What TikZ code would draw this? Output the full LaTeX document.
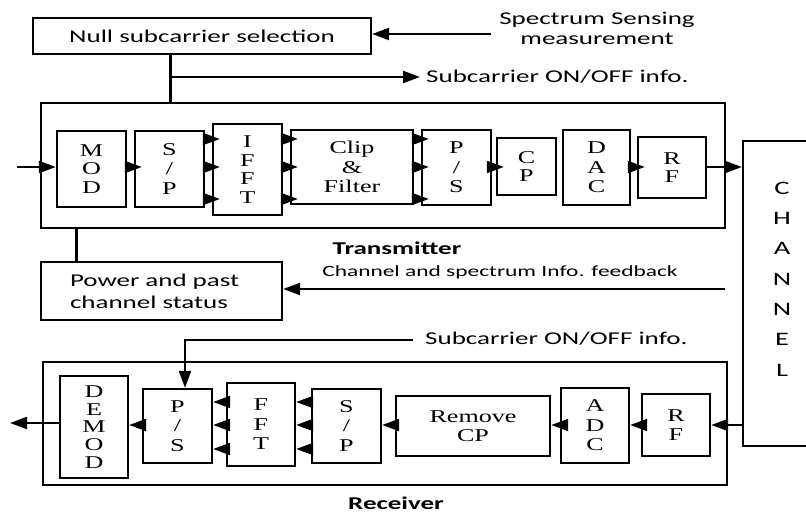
\documentclass[tikz,border=0pt]{standalone}
\usepackage{fontspec}
\newfontfamily\labfont[FakeStretch=1.5]{Carlito}
\newfontfamily\blkfont[FakeStretch=1.45]{Liberation Serif}
\usetikzlibrary{arrows.meta,calc}
\begin{document}
\begin{tikzpicture}[x=1pt,y=-1pt,
  box/.style={draw,line width=2.2pt,inner sep=0pt},
  blk/.style={draw,line width=2.4pt,inner sep=0pt,align=center,font=\blkfont\fontsize{18}{19.5}\selectfont},
  lab/.style={inner sep=0pt,font=\labfont\fontsize{18}{21}\selectfont},
  boldlab/.style={inner sep=0pt,font=\labfont\bfseries\fontsize{18}{21}\selectfont},
  ln/.style={line width=2pt},
  stem/.style={line width=3pt},
  arr/.style={line width=2.2pt,-{Triangle[length=17pt,width=12pt]}},
  tarr/.style={arr,shorten >=-8pt},
]
\useasboundingbox (0,0) rectangle (806,516);
\clip (0,0) rectangle (806,516);

% ---------- top ----------
\node[box,lab,minimum width=338pt,minimum height=36pt] (null) at (202,36) {Null subcarrier selection};
\node[lab,align=center,font=\labfont\fontsize{18}{20}\selectfont] (sslab) at (597,28) {Spectrum Sensing\\measurement};
\coordinate (ssend) at (491,34);
\draw[arr] (ssend) -- (ssend -| null.east);

% ---------- transmitter ----------
\node[box,minimum width=684pt,minimum height=125pt] (tx) at (383,165.5) {};
\coordinate (j1) at (170,77);
\draw[stem] (null.south -| j1) -- (tx.north -| j1);
\coordinate (s1end) at (420,77);
\draw[arr] (j1) -- (s1end);
\node[lab,anchor=west] (s1lab) at (426,77) {Subcarrier ON/OFF info.};

\node[blk,minimum width=69pt,minimum height=76pt,font=\blkfont\fontsize{18}{18.5}\selectfont] (mod) at (91.5,169) {M\\O\\D};
\node[blk,minimum width=69pt,minimum height=76pt] (sp1) at (169.5,169) {S\\/\\P};
\node[blk,minimum width=69pt,minimum height=91pt,font=\blkfont\fontsize{18}{18.7}\selectfont] (ifft) at (247.5,169.5) {I\\F\\F\\T};
\node[blk,minimum width=122pt,minimum height=74pt] (clip) at (352,167) {Clip\\\&\\Filter};
\node[blk,minimum width=69pt,minimum height=75pt] (ps1) at (456.5,167.5) {P\\/\\S};
\node[blk,minimum width=59pt,minimum height=57pt,font=\blkfont\fontsize{18}{17.5}\selectfont] (cp) at (526.5,166.5) {C\\P};
\node[blk,minimum width=67pt,minimum height=75pt] (dac) at (596.5,167.5) {D\\A\\C};
\node[blk,minimum width=68pt,minimum height=61pt,font=\blkfont\fontsize{18}{17.5}\selectfont] (rf1) at (672,167.5) {R\\F};

\coordinate (ya) at (0,139);
\coordinate (yb) at (0,167);
\coordinate (yc) at (0,199);
\coordinate (in) at (17,167);
\draw[arr] (in) -- (mod.west |- in);
\draw[tarr] (mod.east |- yb) -- (sp1.west |- yb);
\foreach \yy in {ya,yb,yc}{
  \draw[tarr] (sp1.east |- \yy) -- (ifft.west |- \yy);
  \draw[tarr] (ifft.east |- \yy) -- (clip.west |- \yy);
  \draw[tarr] (clip.east |- \yy) -- (ps1.west |- \yy);
}
\draw[tarr] (ps1.east |- yb) -- (cp.west |- yb);
\draw[tarr] (dac.east |- yb) -- (rf1.west |- yb);

% ---------- channel ----------
\node[box,minimum width=80pt,minimum height=305pt] (ch) at (783,293.5) {};
\node[lab,align=center,font=\labfont\fontsize{19}{30.3}\selectfont] (chlab) at (782,279) {C\\H\\A\\N\\N\\E\\L};
\draw[arr] (rf1.east |- yb) -- (ch.west |- yb);

% ---------- feedback ----------
\node[boldlab] (txlab) at (397,248) {Transmitter};
\node[box,align=left,text width=183pt,inner xsep=29pt,minimum height=58pt,font=\labfont\fontsize{18}{22}\selectfont] (power) at (161.5,291) {Power and past\\channel status};
\coordinate (j2) at (76,245);
\draw[stem] (tx.south -| j2) -- (power.north -| j2);
\node[lab,font=\labfont\fontsize{15.6}{19}\selectfont] (fblab) at (500,272) {Channel and spectrum Info. feedback};
\coordinate (fb) at (725,289);
\draw[arr] (fb) -- (fb -| power.east);

% ---------- receiver ----------
\node[box,minimum width=684pt,minimum height=123pt] (rx) at (385,423.5) {};
\node[blk,minimum width=68pt,minimum height=102pt,font=\blkfont\fontsize{18}{17.8}\selectfont] (demod) at (94,427) {D\\E\\M\\O\\D};
\node[blk,minimum width=69pt,minimum height=74pt] (ps2) at (177.5,426) {P\\/\\S};
\node[blk,minimum width=68pt,minimum height=83pt] (fft) at (261,424.5) {F\\F\\T};
\node[blk,minimum width=69pt,minimum height=74pt] (sp2) at (346.5,426) {S\\/\\P};
\node[blk,minimum width=154pt,minimum height=60pt] (rcp) at (473,426) {Remove\\CP};
\node[blk,minimum width=68pt,minimum height=75pt] (adc) at (595,425.5) {A\\D\\C};
\node[blk,minimum width=68pt,minimum height=62pt,font=\blkfont\fontsize{18}{19}\selectfont] (rf2) at (676,425) {R\\F};

\coordinate (s2) at (413,340);
\coordinate (j3) at (185,340);
\draw[arr] (s2) -- (j3) -- (j3 |- ps2.north);
\node[lab,anchor=west] (s2lab) at (425,339) {Subcarrier ON/OFF info.};

\coordinate (ra) at (0,402);
\coordinate (rb) at (0,425);
\coordinate (rc) at (0,449);
\draw[arr] (ch.west |- rb) -- (rf2.east |- rb);
\draw[arr] (rf2.west |- rb) -- (adc.east |- rb);
\draw[arr] (adc.west |- rb) -- (rcp.east |- rb);
\draw[arr] (rcp.west |- rb) -- (sp2.east |- rb);
\foreach \yy in {ra,rb,rc}{
  \draw[arr] (sp2.west |- \yy) -- (fft.east |- \yy);
  \draw[arr] (fft.west |- \yy) -- (ps2.east |- \yy);
}
\draw[arr] (ps2.west |- rb) -- (demod.east |- rb);
\coordinate (out) at (10,423);
\draw[arr] (demod.west |- out) -- (out);
\node[boldlab] (rxlab) at (396,503) {Receiver};
\end{tikzpicture}
\end{document}
